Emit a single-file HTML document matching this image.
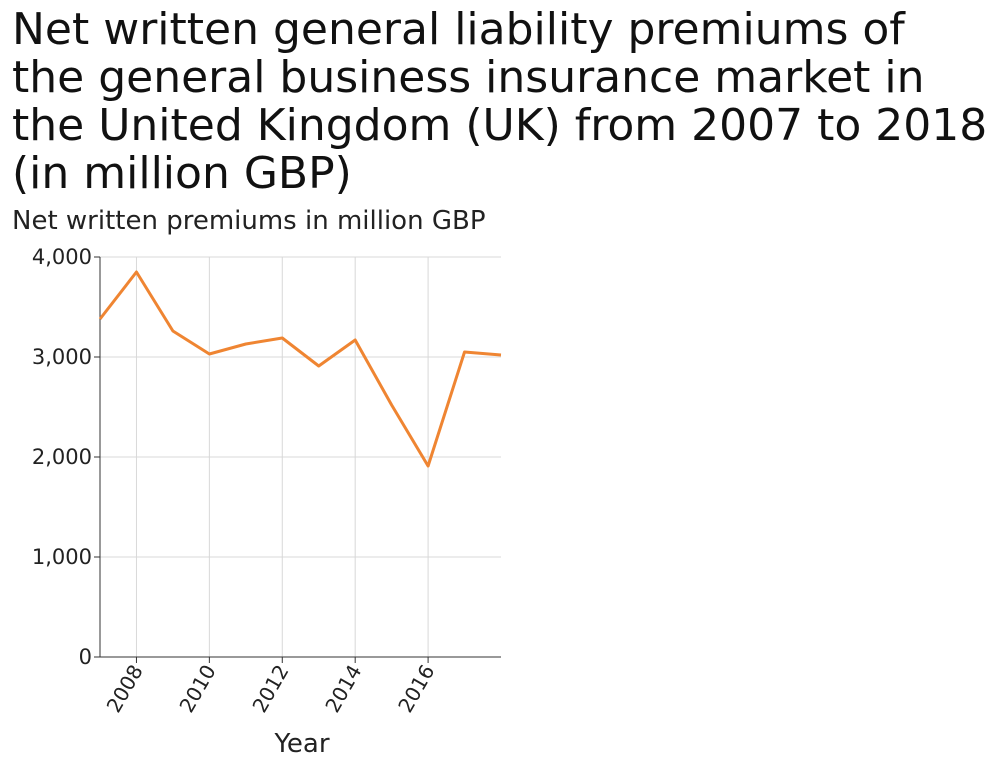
<!DOCTYPE html>
<html><head><meta charset="utf-8"><style>
body{margin:0;background:#fff;font-family:"DejaVu Sans",sans-serif;}
#title{position:absolute;left:12px;top:6px;font-size:44px;line-height:48px;color:#111;margin:0;font-weight:normal;white-space:nowrap;}
svg text{font-family:"DejaVu Sans",sans-serif;}
</style></head><body>
<h1 id="title">Net written general liability premiums of<br>the general business insurance market in<br>the United Kingdom (UK) from 2007 to 2018<br>(in million GBP)</h1>
<svg id="chart" width="996" height="768" style="position:absolute;left:0;top:0"></svg>
<script>
const years=[2007,2008,2009,2010,2011,2012,2013,2014,2015,2016,2017,2018];
const premiums=[3380,3850,3260,3030,3130,3190,2910,3170,2520,1910,3050,3020];
const yTicks=[0,1000,2000,3000,4000];
const yTickLabels=["0","1,000","2,000","3,000","4,000"];
const xTicks=[2008,2010,2012,2014,2016];
const NS="http://www.w3.org/2000/svg";
const svg=document.getElementById('chart');
const L=100,R=501,T=257,B=657;
const xs=y=>L+(y-2007)/(2018-2007)*(R-L);
const ys=v=>B-v/4000*(B-T);
function mk(t,a,txt){const e=document.createElementNS(NS,t);for(const k in a)e.setAttribute(k,a[k]);if(txt!==undefined)e.textContent=txt;svg.appendChild(e);return e;}
yTicks.forEach((v,i)=>{
 const g=mk('line',{x1:L,x2:R,y1:ys(v),y2:ys(v),stroke:'#d8d8d8','stroke-width':1});
 
 
 const tk=mk('line',{x1:L-6,x2:L,y1:ys(v),y2:ys(v),stroke:'#333'});
 
 
 const t=mk('text',{x:L-8,y:ys(v)+7,'text-anchor':'end','font-size':21,fill:'#222'},yTickLabels[i]);
 
 
});
xTicks.forEach(v=>{
 const g=mk('line',{x1:xs(v),x2:xs(v),y1:T,y2:B,stroke:'#d8d8d8'});
 
 
 const tk=mk('line',{x1:xs(v),x2:xs(v),y1:B,y2:B+6,stroke:'#333'});
 
 
 const t=mk('text',{x:xs(v)+7,y:B+13,'text-anchor':'end','font-size':20,fill:'#222',transform:`rotate(-60 ${xs(v)+7} ${B+13})`},String(v));
 
 
});
const ax=mk('line',{x1:L,x2:L,y1:T,y2:B,stroke:'#333'});


const bx=mk('line',{x1:L,x2:R,y1:B,y2:B,stroke:'#333'});


const ln=mk('polyline',{points:years.map((y,i)=>xs(y)+','+ys(premiums[i])).join(' '),fill:'none',stroke:'#ef8532','stroke-width':3,'stroke-linejoin':'round'});


const yt=mk('text',{x:12,y:229,'font-size':26,fill:'#222'},'Net written premiums in million GBP');


const xt=mk('text',{x:302,y:752,'text-anchor':'middle','font-size':26,fill:'#222'},'Year');


</script>
</body></html>
